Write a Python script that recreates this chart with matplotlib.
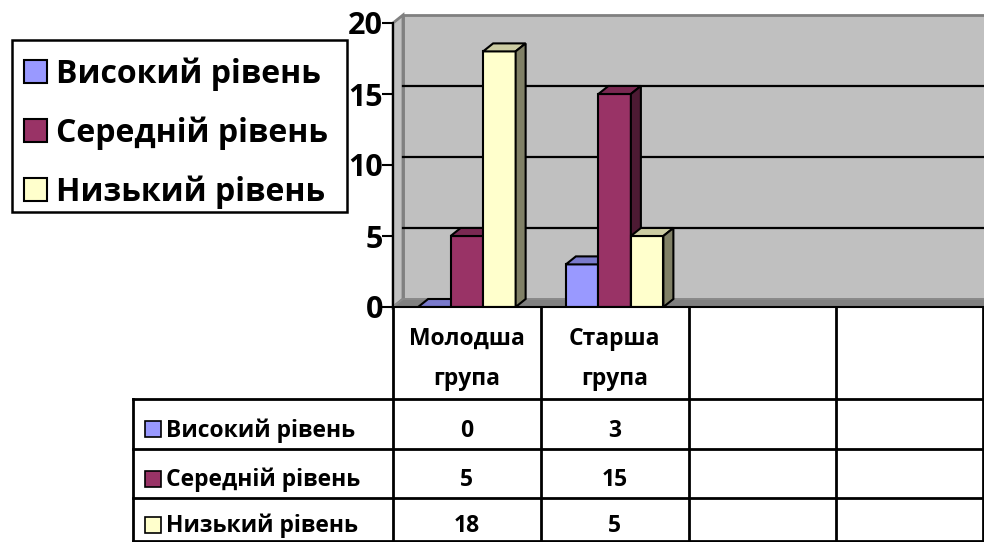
import matplotlib
matplotlib.use('Agg')
import matplotlib.pyplot as plt
from matplotlib.patches import Polygon, Rectangle
from matplotlib.lines import Line2D

# --- data ---
categories = ['Молодша\nгрупа', 'Старша\nгрупа', '', '']
series = ['Високий рівень', 'Середній рівень', 'Низький рівень']
high = [0, 3]
mid = [5, 15]
low = [18, 5]
yticks = [0, 5, 10, 15, 20]

face = ['#9999FF', '#993366', '#FFFFCC']
top_c = ['#7A7ACC', '#7A2952', '#CCCCA3']
side_c = ['#4D4D80', '#4D1A33', '#808066']

plt.rcParams['font.family'] = ['Open Sans', 'DejaVu Sans']

W, H = 984, 542
fig = plt.figure(figsize=(W / 100, H / 100), dpi=100)

def fx(x): return x / W
def fy(y): return 1 - y / H

# plot area (front plane: x 393..984, y 0 at px 307)
ax = fig.add_axes([fx(393), fy(307), 591 / W, 292 / H])
ymax = yticks[-1]
sy = (292 - 8) / ymax          # px per unit
DY = 8 / sy
DX = 10 / (591 / len(categories))
ax.set_xlim(0, len(categories))
ax.set_ylim(0, ymax + DY)
ax.patch.set_visible(False)

# walls and floor
nc = len(categories)
ax.add_patch(Polygon([(DX, DY), (nc + 1, DY), (nc + 1, ymax + DY), (DX, ymax + DY)],
                     closed=True, fc='#C0C0C0', ec='#808080', lw=2, clip_on=False, zorder=0))
ax.add_patch(Polygon([(0, 0), (DX, DY), (DX, ymax + DY), (0, ymax)],
                     closed=True, fc='#C0C0C0', ec='#808080', lw=2, clip_on=False, zorder=0.1))
ax.add_patch(Polygon([(0, 0), (nc + 1, 0), (nc + 1, DY), (DX, DY)],
                     closed=True, fc='#808080', ec='#8C8C8C', lw=1.2, clip_on=False, zorder=0.5))
for v in yticks[1:-1]:
    ax.plot([DX, nc + 1], [v + DY, v + DY], color='black', lw=1.6, clip_on=False, zorder=0.6)

# bars with fake depth
vals = [high, mid, low]
bw = 0.22
n = 0
for i in range(len(high)):
    for k in range(len(series)):
        h = vals[k][i]
        x0 = i + 0.5 + (k - 1) * bw - bw / 2
        x1 = x0 + bw
        z = 2 + n * 0.1
        ax.bar(x0, h, width=bw, align='edge', color=face[k], ec='black', lw=1.5, zorder=z)
        ax.add_patch(Polygon([(x0, h), (x1, h), (x1 + DX, h + DY), (x0 + DX, h + DY)],
                             closed=True, fc=top_c[k], ec='black', lw=1.5, zorder=z))
        ax.add_patch(Polygon([(x1, 0), (x1 + DX, DY), (x1 + DX, h + DY), (x1, h)],
                             closed=True, fc=side_c[k], ec='black', lw=1.5, zorder=z))
        n += 1

# axis
for s in ['top', 'right', 'bottom']:
    ax.spines[s].set_visible(False)
ax.spines['left'].set_bounds(0, ymax)
ax.spines['left'].set_linewidth(1.5)
ax.spines['left'].set_zorder(5)
ax.set_xticks([])
ax.set_yticks(yticks)
ax.set_yticklabels([str(v) for v in yticks], fontweight='bold', fontsize=22)
ax.tick_params(axis='y', length=8, width=1.5, pad=-1)

# --- data table ---
col_x = [393 + 147.75 * j for j in range(nc + 1)]
col_x[-1] = 983
row_y = [399, 449, 498, 541]
def hline(y, a, b, lw=2):
    fig.add_artist(Line2D([fx(a), fx(b)], [fy(y), fy(y)], transform=fig.transFigure, color='black', lw=lw))
def vline(x, a, b, lw=2):
    fig.add_artist(Line2D([fx(x), fx(x)], [fy(a), fy(b)], transform=fig.transFigure, color='black', lw=lw))

hline(307, 393, 983, 1.5)
for y in row_y:
    hline(y, 133, 983)
for x in col_x:
    vline(x, 307, 541)
vline(133, 399, 541)

for j, name in enumerate(categories):
    cx = (col_x[j] + col_x[j + 1]) / 2
    for li, part in enumerate(name.split('\n')):
        if part:
            fig.text(fx(cx), fy(345 + 40 * li), part, ha='center', va='baseline', fontsize=16.5,
                     fontweight='bold')

for k, name in enumerate(series):
    rc = (row_y[k] + row_y[k + 1]) / 2
    base = rc + 13
    fig.add_artist(Rectangle((fx(145), fy(base)), 16 / W, 16 / H, transform=fig.transFigure,
                             fc=face[k], ec='black', lw=1.2))
    fig.text(fx(166), fy(base), name, ha='left', va='baseline', fontsize=16.5, fontweight='bold')
    for i in range(len(high)):
        cx = (col_x[i] + col_x[i + 1]) / 2
        fig.text(fx(cx), fy(base), str(vals[k][i]), ha='center', va='baseline',
                 fontsize=16.5, fontweight='bold')

# --- legend ---
fig.add_artist(Rectangle((fx(12), fy(212)), 335 / W, 172 / H, transform=fig.transFigure,
                         fc='white', ec='black', lw=1.8))
leg_base = [83, 142, 201]
for k, name in enumerate(series):
    fig.add_artist(Rectangle((fx(24), fy(leg_base[k])), 23 / W, 23 / H, transform=fig.transFigure,
                             fc=face[k], ec='black', lw=1.5))
    fig.text(fx(56), fy(leg_base[k]), name, ha='left', va='baseline', fontsize=23, fontweight='bold')

fig.savefig('out.png', dpi=100)
